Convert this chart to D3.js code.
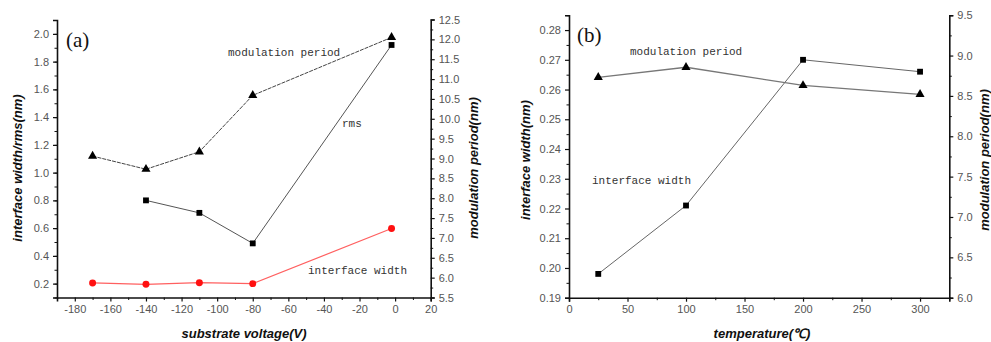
<!DOCTYPE html>
<html><head><meta charset="utf-8">
<script src="https://cdn.jsdelivr.net/npm/d3@7"></script>
<style>
body{margin:0;background:#fff;}
svg{display:block;}
.tick text{font-family:"Liberation Sans",Arial,sans-serif;font-size:11px;fill:#555;}
.ttl{font-family:"Liberation Sans",Arial,sans-serif;font-size:13px;font-weight:bold;font-style:italic;fill:#111;}
.ann{font-family:"Liberation Mono","DejaVu Sans Mono",monospace;font-size:11px;fill:#333;}
.pl{font-family:"Liberation Serif","Times New Roman",serif;font-size:21px;fill:#111;}
</style></head>
<body><svg id="c" width="991" height="342"></svg>
<script>
// ---- data: panel (a) ----
const voltage = [-170, -140, -110, -80, -2];
const modPeriodA = [9.06, 8.73, 9.17, 10.59, 12.05];
const rmsVoltage = [-140, -110, -80, -2];
const rmsA = [0.80, 0.71, 0.49, 1.92];
const interfaceA = [0.205, 0.195, 0.207, 0.200, 0.597];
const xTicksA = [-180, -160, -140, -120, -100, -80, -60, -40, -20, 0, 20];
const yLeftTicksA = [0.2, 0.4, 0.6, 0.8, 1.0, 1.2, 1.4, 1.6, 1.8, 2.0];
const yRightTicksA = [5.5, 6.0, 6.5, 7.0, 7.5, 8.0, 8.5, 9.0, 9.5, 10.0, 10.5, 11.0, 11.5, 12.0, 12.5];
// ---- data: panel (b) ----
const temperature = [25, 100, 200, 300];
const interfaceB = [0.198, 0.221, 0.270, 0.266];
const modPeriodB = [8.73, 8.855, 8.63, 8.52];
const xTicksB = [0, 50, 100, 150, 200, 250, 300];
const yLeftTicksB = [0.19, 0.20, 0.21, 0.22, 0.23, 0.24, 0.25, 0.26, 0.27, 0.28];
const yRightTicksB = [6.0, 6.5, 7.0, 7.5, 8.0, 8.5, 9.0, 9.5];

const svg = d3.select("#c");

function axes(g, x, yl, yr, xt, xminor, ylt, ylminor, ylfmt, yrt, yrminor) {
  const ax = g.append("g").attr("transform", `translate(0,${yl.range()[0]})`)
    .call(d3.axisBottom(x).tickValues(xt).tickSize(4).tickPadding(4).tickFormat(d => String(d)));
  ax.select(".domain").attr("stroke", "#111").attr("stroke-width", 1.6);
  ax.selectAll(".tick line").attr("stroke", "#111").attr("stroke-width", 1.2);
  const axm = g.append("g").attr("transform", `translate(0,${yl.range()[0]})`)
    .call(d3.axisBottom(x).tickValues(xminor).tickSize(2.5).tickFormat(""));
  axm.select(".domain").remove(); axm.selectAll(".tick line").attr("stroke", "#111");

  const ay = g.append("g").attr("transform", `translate(${x.range()[0]},0)`)
    .call(d3.axisLeft(yl).tickValues(ylt).tickSize(4).tickPadding(4).tickFormat(d3.format(ylfmt)));
  ay.select(".domain").attr("stroke", "#111").attr("stroke-width", 1.6);
  ay.selectAll(".tick line").attr("stroke", "#111").attr("stroke-width", 1.2);
  const aym = g.append("g").attr("transform", `translate(${x.range()[0]},0)`)
    .call(d3.axisLeft(yl).tickValues(ylminor).tickSize(2.5).tickFormat(""));
  aym.select(".domain").remove(); aym.selectAll(".tick line").attr("stroke", "#111");

  const ar = g.append("g").attr("transform", `translate(${x.range()[1]},0)`)
    .call(d3.axisRight(yr).tickValues(yrt).tickSize(4).tickPadding(4).tickFormat(d3.format(".1f")));
  ar.select(".domain").attr("stroke", "#111").attr("stroke-width", 1.6);
  ar.selectAll(".tick line").attr("stroke", "#111").attr("stroke-width", 1.2);
  const arm = g.append("g").attr("transform", `translate(${x.range()[1]},0)`)
    .call(d3.axisRight(yr).tickValues(yrminor).tickSize(2.5).tickFormat(""));
  arm.select(".domain").remove(); arm.selectAll(".tick line").attr("stroke", "#111");
}

function series(g, xs, ys, x, y, color, width, dash, marker, mcolor, size) {
  const line = d3.line().x((d, i) => x(xs[i])).y(d => y(d));
  g.append("path").datum(ys).attr("d", line).attr("fill", "none")
    .attr("stroke", color).attr("stroke-width", width).attr("stroke-dasharray", dash);
  g.selectAll(null).data(ys).enter().append("path")
    .attr("transform", (d, i) => `translate(${x(xs[i])},${y(d)})`)
    .attr("d", d3.symbol().type(marker).size(size)).attr("fill", mcolor);
}

function range(a, b, s) { const r = []; for (let v = a; v <= b + 1e-9; v += s) r.push(+v.toFixed(4)); return r; }

// ---- panel (a) ----
{
  const g = svg.append("g");
  const x = d3.scaleLinear().domain([-190, 20]).range([57, 430.7]);
  const yl = d3.scaleLinear().domain([0.1, 2.1]).range([297.5, 20]);
  const yr = d3.scaleLinear().domain([5.5, 12.5]).range([297.5, 19.5]);
  axes(g, x, yl, yr, xTicksA, range(-190, 10, 10).filter(v => v % 20 !== 0),
       yLeftTicksA, range(0.1, 2.1, 0.1), ".1f", yRightTicksA, range(5.75, 12.25, 0.5));
  series(g, voltage, modPeriodA, x, yr, "#444", 1, "4,1", d3.symbolTriangle, "#000", 36);
  series(g, rmsVoltage, rmsA, x, yl, "#555", 1, null, d3.symbolSquare, "#000", 34);
  series(g, voltage, interfaceA, x, yl, "#ff6060", 1.2, null, d3.symbolCircle, "#ff1010", 38);
  g.append("text").attr("class", "pl").attr("x", 66).attr("y", 47).text("(a)");
  g.append("text").attr("class", "ann").attr("x", 228).attr("y", 56).text("modulation period");
  g.append("text").attr("class", "ann").attr("x", 342).attr("y", 127).text("rms");
  g.append("text").attr("class", "ann").attr("x", 308).attr("y", 274).text("interface width");
  g.append("text").attr("class", "ttl").attr("text-anchor", "middle")
    .attr("transform", "translate(22,168) rotate(-90)").text("interface width/rms(nm)");
  g.append("text").attr("class", "ttl").attr("text-anchor", "middle")
    .attr("transform", "translate(478,168) rotate(-90)").text("modulation period(nm)");
  g.append("text").attr("class", "ttl").attr("text-anchor", "middle")
    .attr("x", 244).attr("y", 338).text("substrate voltage(V)");
}

// ---- panel (b) ----
{
  const g = svg.append("g");
  const x = d3.scaleLinear().domain([0, 325]).range([569, 949.3]);
  const yl = d3.scaleLinear().domain([0.19, 0.285]).range([297.7, 15.2]);
  const yr = d3.scaleLinear().domain([6.0, 9.5]).range([297.7, 15.2]);
  axes(g, x, yl, yr, xTicksB, range(25, 325, 50),
       yLeftTicksB, range(0.195, 0.285, 0.01), ".2f", yRightTicksB, range(6.25, 9.25, 0.5));
  series(g, temperature, interfaceB, x, yl, "#666", 1, null, d3.symbolSquare, "#000", 34);
  series(g, temperature, modPeriodB, x, yr, "#777", 1.3, null, d3.symbolTriangle, "#000", 36);
  g.append("text").attr("class", "pl").attr("x", 577).attr("y", 42).text("(b)");
  g.append("text").attr("class", "ann").attr("x", 630).attr("y", 55).text("modulation period");
  g.append("text").attr("class", "ann").attr("x", 592).attr("y", 184).text("interface width");
  g.append("text").attr("class", "ttl").attr("text-anchor", "middle")
    .attr("transform", "translate(530,160) rotate(-90)").text("interface width(nm)");
  g.append("text").attr("class", "ttl").attr("text-anchor", "middle")
    .attr("transform", "translate(992,160) rotate(-90)").attr("dy", "-0.2em").text("modulation period(nm)");
  g.append("text").attr("class", "ttl").attr("text-anchor", "middle")
    .attr("x", 762).attr("y", 338).text("temperature(℃)");
}
</script></body></html>
